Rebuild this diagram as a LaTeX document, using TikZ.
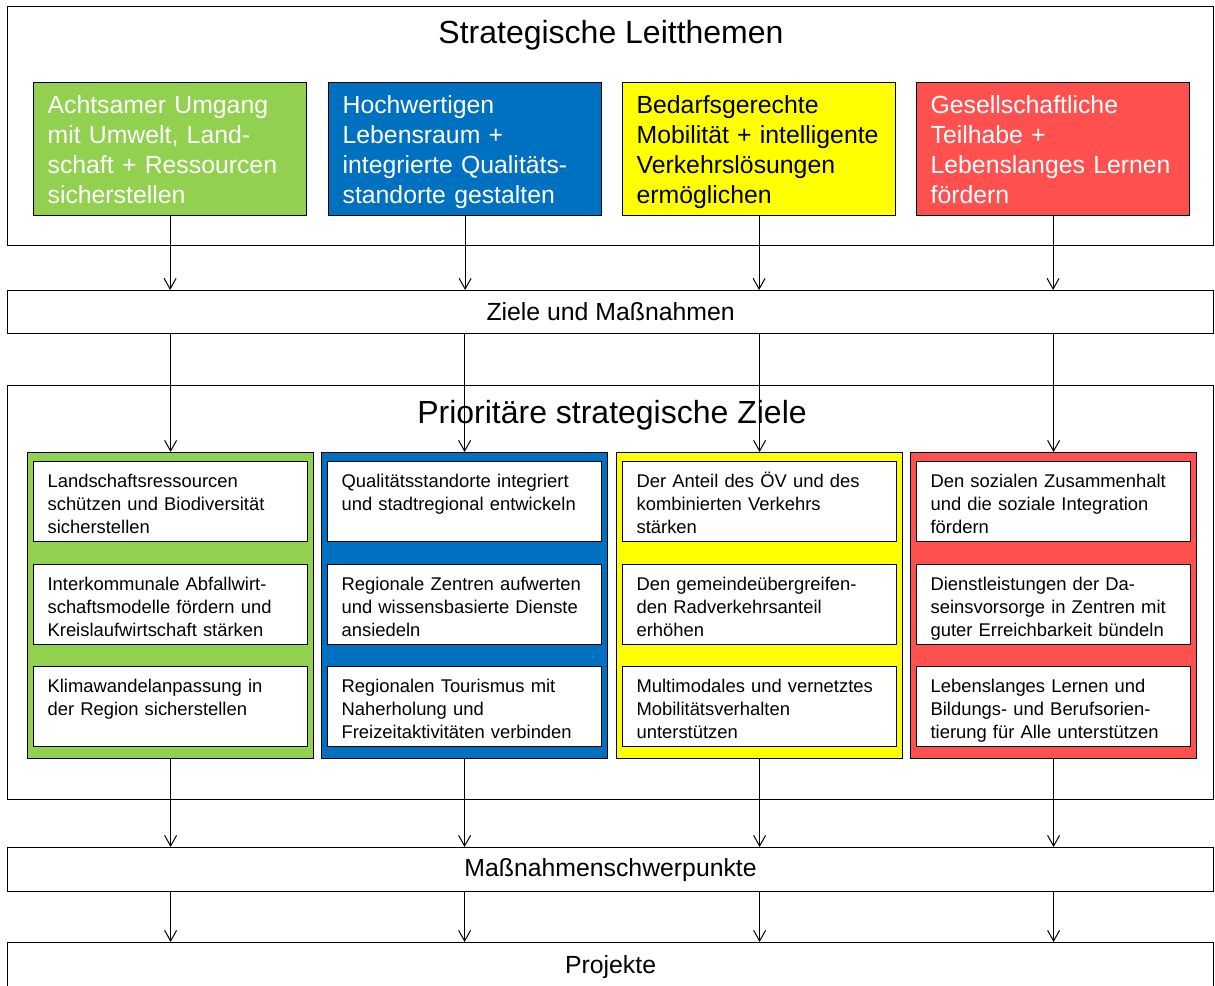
\documentclass[tikz,border=0pt]{standalone}
\usepackage{fontspec}
\setmainfont{Liberation Sans}
\usetikzlibrary{arrows.meta,positioning,calc}
\definecolor{ltgreen}{HTML}{92D050}
\definecolor{ltblue}{HTML}{0070C0}
\definecolor{ltyellow}{HTML}{FFFF00}
\definecolor{ltred}{HTML}{FF5050}

\begin{document}
\begin{tikzpicture}[x=0.75pt,y=-0.75pt,>={Straight Barb[length=8pt,width=9pt]},
  plainbox/.style={draw,line width=0.9pt,anchor=north west,inner sep=0pt},
  bandbox/.style={plainbox,minimum width=904.5pt,font=\fontsize{18.6}{22}\selectfont},
  headline/.style={anchor=base,font=\fontsize{24}{29}\selectfont},
  themebox/.style={plainbox,fill=#1,minimum width=204.75pt,minimum height=99.75pt,text width=183.75pt,
    inner xsep=10.5pt,text height=15pt,text depth=68.25pt,align=left,text=white,
    font=\fontsize{18.6}{22.5}\selectfont},
  colbox/.style={plainbox,fill=#1,minimum width=214.5pt,minimum height=229.5pt},
  goalbox/.style={plainbox,fill=white,minimum width=205.5pt,minimum height=60pt,text width=184.5pt,
    inner xsep=10.5pt,text height=12pt,text depth=33pt,align=left,font=\fontsize{13.8}{17.25}\selectfont},
  flowarrow/.style={->,line width=0.75pt}]
\clip (0,0) rectangle (1215,986);
% frames and titles
\node[plainbox,minimum width=904.5pt,minimum height=179.25pt](leitframe) at (7,6){};
\node[plainbox,minimum width=904.5pt,minimum height=310.5pt](prioframe) at (7,385){};
\node[headline](leit) at (611,43){Strategische Leitthemen};
\node[headline](prio) at (612,423){Prioritäre strategische Ziele};
% Leitthemen
\node[themebox=ltgreen](umwelt) at (33,82){Achtsamer Umgang\\mit Umwelt, Land-\\schaft + Ressourcen\\sicherstellen};
\node[themebox=ltblue](lebensraum) at (328,82){Hochwertigen\\Lebensraum +\\integrierte Qualitäts-\\standorte gestalten};
\node[themebox=ltyellow,text=black](mobil) at (622,82){Bedarfsgerechte\\Mobilität + intelligente\\Verkehrslösungen\\ermöglichen};
\node[themebox=ltred](teilhabe) at (916,82){Gesellschaftliche\\Teilhabe +\\Lebenslanges Lernen\\fördern};
% bands
\node[bandbox,minimum height=32.25pt](ziele) at (7,290){Ziele und Maßnahmen};
\node[bandbox,minimum height=33pt](schwer) at (7,847){Maßnahmenschwerpunkte};
\node[bandbox,minimum height=36pt](projekte) at (7,942){Projekte};
% columns
\node[colbox=ltgreen](cumwelt) at (27,452){};
\node[colbox=ltblue](clebensraum) at (321,452){};
\node[colbox=ltyellow](cmobil) at (616,452){};
\node[colbox=ltred](cteilhabe) at (910,452){};
\node[goalbox](land) at (33,461){Landschaftsressourcen\\schützen und Biodiversität\\sicherstellen};
\node[goalbox](abfall) at (33,564){Interkommunale Abfallwirt-\\schaftsmodelle fördern und\\Kreislaufwirtschaft stärken};
\node[goalbox](klima) at (33,666){Klimawandelanpassung in\\der Region sicherstellen};
\node[goalbox](qual) at (327,461){Qualitätsstandorte integriert\\und stadtregional entwickeln};
\node[goalbox](zentren) at (327,564){Regionale Zentren aufwerten\\und wissensbasierte Dienste\\ansiedeln};
\node[goalbox](tourismus) at (327,666){Regionalen Tourismus mit\\Naherholung und\\Freizeitaktivitäten verbinden};
\node[goalbox](oev) at (622,461){Der Anteil des ÖV und des\\kombinierten Verkehrs\\stärken};
\node[goalbox](rad) at (622,564){Den gemeindeübergreifen-\\den Radverkehrsanteil\\erhöhen};
\node[goalbox](multi) at (622,666){Multimodales und vernetztes\\Mobilitätsverhalten\\unterstützen};
\node[goalbox](sozial) at (916,461){Den sozialen Zusammenhalt\\und die soziale Integration\\fördern};
\node[goalbox](dienst) at (916,564){Dienstleistungen der Da-\\seinsvorsorge in Zentren mit\\guter Erreichbarkeit bündeln};
\node[goalbox](lernen) at (916,666){Lebenslanges Lernen und\\Bildungs- und Berufsorien-\\tierung für Alle unterstützen};
% arrows
\draw[flowarrow] (umwelt.south) -- (umwelt.south |- ziele.north);
\draw[flowarrow] (lebensraum.south) -- (lebensraum.south |- ziele.north);
\draw[flowarrow] (mobil.south) -- (mobil.south |- ziele.north);
\draw[flowarrow] (teilhabe.south) -- (teilhabe.south |- ziele.north);
\draw[flowarrow] (cumwelt.north |- ziele.south) -- (cumwelt.north);
\draw[flowarrow] (clebensraum.north |- ziele.south) -- (clebensraum.north);
\draw[flowarrow] (cmobil.north |- ziele.south) -- (cmobil.north);
\draw[flowarrow] (cteilhabe.north |- ziele.south) -- (cteilhabe.north);
\draw[flowarrow] (cumwelt.south) -- (cumwelt.south |- schwer.north);
\draw[flowarrow] (clebensraum.south) -- (clebensraum.south |- schwer.north);
\draw[flowarrow] (cmobil.south) -- (cmobil.south |- schwer.north);
\draw[flowarrow] (cteilhabe.south) -- (cteilhabe.south |- schwer.north);
\draw[flowarrow] (cumwelt.south |- schwer.south) -- (cumwelt.south |- projekte.north);
\draw[flowarrow] (clebensraum.south |- schwer.south) -- (clebensraum.south |- projekte.north);
\draw[flowarrow] (cmobil.south |- schwer.south) -- (cmobil.south |- projekte.north);
\draw[flowarrow] (cteilhabe.south |- schwer.south) -- (cteilhabe.south |- projekte.north);
\end{tikzpicture}
\end{document}
